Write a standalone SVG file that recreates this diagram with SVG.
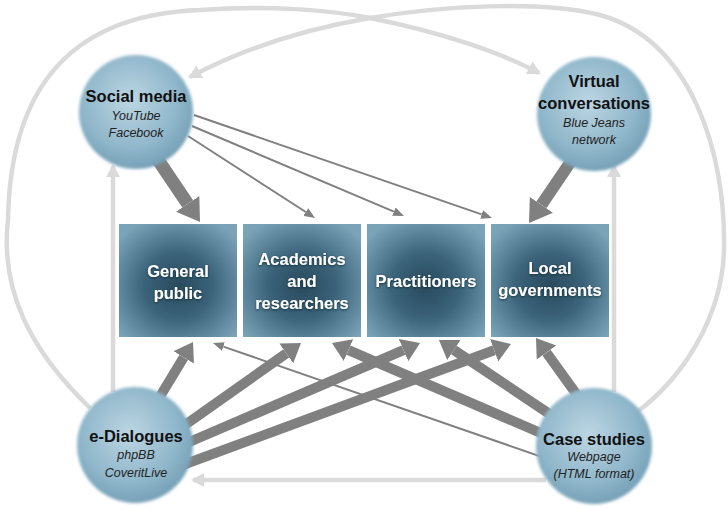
<svg xmlns="http://www.w3.org/2000/svg" width="728" height="510" viewBox="0 0 728 510">
<defs>
<style>
.loop{fill:none;stroke:#dadada;stroke-width:4.5}
.dk{stroke:#808080;fill:none}
.t{font-family:"Liberation Sans",Arial,sans-serif;text-anchor:middle}
.ct{font-size:16.5px;font-weight:bold;fill:#111}
.cs{font-size:12.5px;font-style:italic;fill:#222}
.bt{font-size:16.5px;font-weight:bold;fill:#fff}
</style>
<radialGradient id="cg" cx="45%" cy="40%" r="60%">
<stop offset="0" stop-color="#bcd6e3"/>
<stop offset="0.7" stop-color="#8fb6ca"/>
<stop offset="1" stop-color="#76a1b7"/>
</radialGradient>
<radialGradient id="bg" cx="50%" cy="55%" r="65%">
<stop offset="0" stop-color="#284a5d"/>
<stop offset="0.45" stop-color="#3b637a"/>
<stop offset="1" stop-color="#7aa3b8"/>
</radialGradient>
<filter id="soft" x="-10%" y="-10%" width="120%" height="120%"><feGaussianBlur stdDeviation="1.6"/></filter>
<filter id="ts" x="-10%" y="-30%" width="120%" height="160%"><feDropShadow dx="0" dy="1" stdDeviation="1.2" flood-color="#102530" flood-opacity="0.8"/></filter>
<marker id="hg" markerUnits="userSpaceOnUse" markerWidth="16" markerHeight="16" refX="11" refY="0" viewBox="0 -8 14 16" orient="auto"><path d="M0,-7 L13,0 L0,7 z" fill="#dadada"/></marker>
<marker id="hb" markerUnits="userSpaceOnUse" markerWidth="24" markerHeight="30" refX="0" refY="0" viewBox="0 -15 24 30" orient="auto"><path d="M0,-14 L22,0 L0,14 z" fill="#808080"/></marker>
<marker id="hm" markerUnits="userSpaceOnUse" markerWidth="20" markerHeight="26" refX="0" refY="0" viewBox="0 -13 20 26" orient="auto"><path d="M0,-12 L18,0 L0,12 z" fill="#808080"/></marker>
<marker id="ht" markerUnits="userSpaceOnUse" markerWidth="12" markerHeight="10" refX="0" refY="0" viewBox="0 -5 12 10" orient="auto"><path d="M0,-4.5 L11,0 L0,4.5 z" fill="#808080"/></marker>
</defs>
<rect width="728" height="510" fill="#fff"/>
<g id="connectors">
<path class="loop" marker-end="url(#hg)" d="M90,408 C30,350 0,290 8,220 C10,100 60,15 200,10 C270,5 330,10 370,18 C440,32 500,52 539,73"/>
<path class="loop" marker-end="url(#hg)" d="M637,412 C680,380 722,320 724,250 C726,150 690,40 600,15 C540,0 440,6 370,18 C300,30 240,50 190,77"/>
<line class="loop" marker-end="url(#hg)" x1="113" y1="392" x2="113" y2="166"/>
<line class="loop" marker-end="url(#hg)" x1="614" y1="392" x2="614" y2="166"/>
<line class="loop" marker-end="url(#hg)" x1="546" y1="480" x2="193" y2="480"/>
<line class="dk" stroke-width="13" marker-end="url(#hb)" x1="150" y1="148" x2="187.7" y2="203.8"/>
<line class="dk" stroke-width="12" marker-end="url(#hb)" x1="580" y1="148" x2="541.4" y2="204.8"/>
<line class="dk" stroke-width="2" marker-end="url(#ht)" x1="188" y1="136" x2="305.8" y2="212"/>
<line class="dk" stroke-width="2" marker-end="url(#ht)" x1="192" y1="126" x2="393.9" y2="211.7"/>
<line class="dk" stroke-width="2" marker-end="url(#ht)" x1="194" y1="115" x2="481.6" y2="214.4"/>
<line class="dk" stroke-width="10" marker-end="url(#hm)" x1="150" y1="413" x2="183.7" y2="357.4"/>
<line class="dk" stroke-width="10" marker-end="url(#hm)" x1="175" y1="432" x2="286.3" y2="353.4"/>
<line class="dk" stroke-width="10" marker-end="url(#hm)" x1="180" y1="446" x2="403.5" y2="350.1"/>
<line class="dk" stroke-width="10" marker-end="url(#hm)" x1="180" y1="466" x2="494.1" y2="350.2"/>
<line class="dk" stroke-width="10" marker-end="url(#hm)" x1="590" y1="413" x2="546.5" y2="352.6"/>
<line class="dk" stroke-width="10" marker-end="url(#hm)" x1="560" y1="421" x2="453.9" y2="350"/>
<line class="dk" stroke-width="10" marker-end="url(#hm)" x1="550" y1="437" x2="348.5" y2="350.1"/>
<line class="dk" stroke-width="2" marker-end="url(#ht)" x1="545" y1="458" x2="223.4" y2="346.6"/>
</g>
<g id="general-public">
<rect x="119" y="224" width="118" height="113" fill="url(#bg)"/>
<text class="t bt" filter="url(#ts)"><tspan x="178" y="277">General</tspan><tspan x="178" y="299">public</tspan></text>
</g>
<g id="academics">
<rect x="243" y="224" width="118" height="113" fill="url(#bg)"/>
<text class="t bt" filter="url(#ts)"><tspan x="302" y="265">Academics</tspan><tspan x="302" y="287">and</tspan><tspan x="302" y="309">researchers</tspan></text>
</g>
<g id="practitioners">
<rect x="367" y="224" width="118" height="113" fill="url(#bg)"/>
<text class="t bt" filter="url(#ts)"><tspan x="426" y="287">Practitioners</tspan></text>
</g>
<g id="local-governments">
<rect x="491" y="224" width="118" height="113" fill="url(#bg)"/>
<text class="t bt" filter="url(#ts)"><tspan x="550" y="274">Local</tspan><tspan x="550" y="296">governments</tspan></text>
</g>
<g id="social-media">
<circle cx="136" cy="112" r="57" fill="url(#cg)" filter="url(#soft)"/>
<text class="t ct" x="136" y="102">Social media</text>
<text class="t cs"><tspan x="136" y="120">YouTube</tspan><tspan x="136" y="137">Facebook</tspan></text>
</g>
<g id="virtual-conversations">
<circle cx="594" cy="114" r="57" fill="url(#cg)" filter="url(#soft)"/>
<text class="t ct"><tspan x="594" y="87">Virtual</tspan><tspan x="594" y="109">conversations</tspan></text>
<text class="t cs"><tspan x="594" y="127">Blue Jeans</tspan><tspan x="594" y="144">network</tspan></text>
</g>
<g id="e-dialogues">
<circle cx="135" cy="445" r="58" fill="url(#cg)" filter="url(#soft)"/>
<text class="t ct" x="136" y="442">e-Dialogues</text>
<text class="t cs"><tspan x="136" y="459">phpBB</tspan><tspan x="136" y="477">CoveritLive</tspan></text>
</g>
<g id="case-studies">
<circle cx="594" cy="446" r="58" fill="url(#cg)" filter="url(#soft)"/>
<text class="t ct" x="594" y="445">Case studies</text>
<text class="t cs"><tspan x="594" y="461">Webpage</tspan><tspan x="594" y="478">(HTML format)</tspan></text>
</g>
</svg>
